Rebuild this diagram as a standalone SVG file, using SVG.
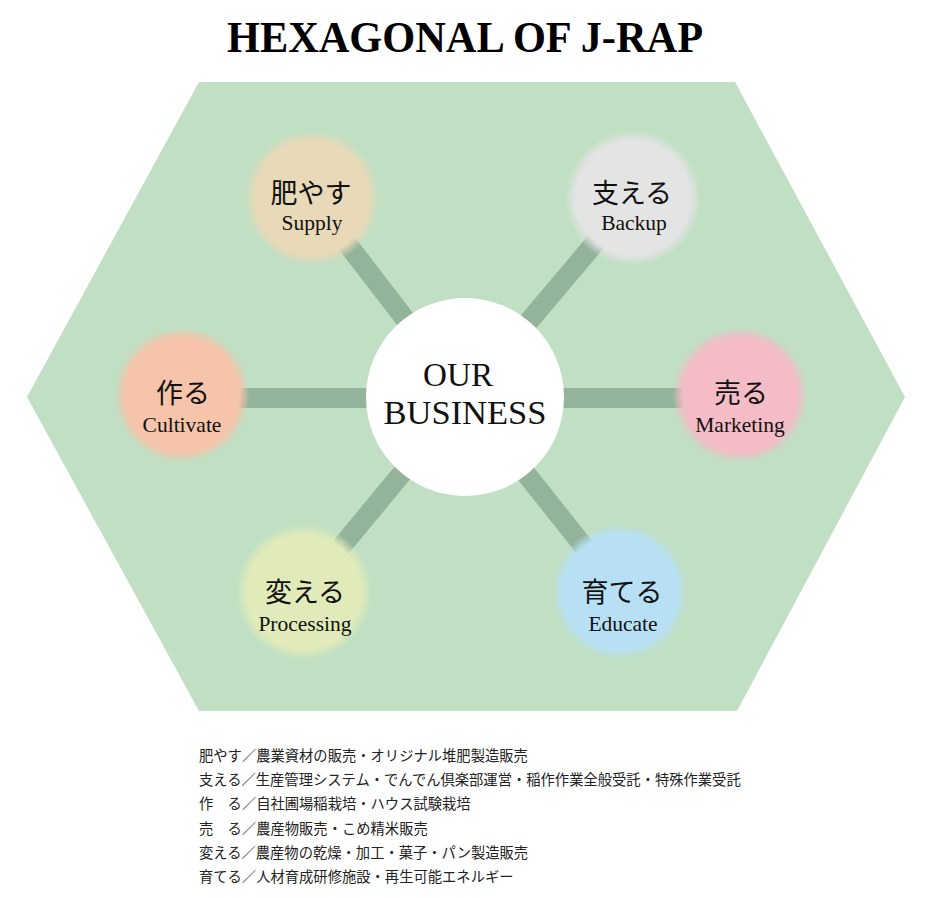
<svg xmlns="http://www.w3.org/2000/svg" width="932" height="898" viewBox="0 0 932 898">
<defs>
<style>
.title{font-family:"Liberation Serif",serif;font-weight:bold;font-size:44px;fill:#000}
.hub{font-family:"Liberation Serif",serif;font-size:34px;fill:#111}
.jp{font-family:"Liberation Serif","Noto Sans CJK JP",serif;font-size:27px;fill:#111;text-anchor:middle}
.en{font-family:"Liberation Serif",serif;font-size:21.5px;fill:#111;text-anchor:middle}
.note{font-family:"Noto Sans CJK JP","Noto Sans",sans-serif;font-size:14.3px;fill:#222}
.bar{stroke:#93b39b;stroke-width:20;fill:none}
</style>
<radialGradient id="gSupply"><stop offset="0" stop-color="#e8d9b8"/><stop offset="0.84" stop-color="#e8d9b8"/><stop offset="1" stop-color="#e8d9b8" stop-opacity="0"/></radialGradient>
<radialGradient id="gBackup"><stop offset="0" stop-color="#e4e4e4"/><stop offset="0.84" stop-color="#e4e4e4"/><stop offset="1" stop-color="#e4e4e4" stop-opacity="0"/></radialGradient>
<radialGradient id="gCult"><stop offset="0" stop-color="#f5c4aa"/><stop offset="0.84" stop-color="#f5c4aa"/><stop offset="1" stop-color="#f5c4aa" stop-opacity="0"/></radialGradient>
<radialGradient id="gMark"><stop offset="0" stop-color="#f3bcc6"/><stop offset="0.84" stop-color="#f3bcc6"/><stop offset="1" stop-color="#f3bcc6" stop-opacity="0"/></radialGradient>
<radialGradient id="gProc"><stop offset="0" stop-color="#e1ebb9"/><stop offset="0.84" stop-color="#e1ebb9"/><stop offset="1" stop-color="#e1ebb9" stop-opacity="0"/></radialGradient>
<radialGradient id="gEdu"><stop offset="0" stop-color="#b7e0f5"/><stop offset="0.84" stop-color="#b7e0f5"/><stop offset="1" stop-color="#b7e0f5" stop-opacity="0"/></radialGradient>
</defs>
<rect width="932" height="898" fill="#ffffff"/>
<text class="title" x="465" y="52" text-anchor="middle" textLength="476" lengthAdjust="spacingAndGlyphs">HEXAGONAL OF J-RAP</text>
<polygon id="hexagon" points="199,82 735,82 905,397 737,711 199,711 27,397" fill="#c0dfc3"/>
<g id="connectors">
<line class="bar" x1="465" y1="397" x2="312" y2="198"/>
<line class="bar" x1="465" y1="397" x2="633" y2="198"/>
<line class="bar" x1="465" y1="398" x2="182" y2="398"/>
<line class="bar" x1="465" y1="398" x2="740" y2="398"/>
<line class="bar" x1="465" y1="397" x2="304" y2="592"/>
<line class="bar" x1="465" y1="397" x2="620" y2="592"/>
</g>
<g id="hub">
<circle cx="465" cy="397" r="99" fill="#ffffff"/>
<text class="hub" x="458" y="386" text-anchor="middle" textLength="70" lengthAdjust="spacingAndGlyphs">OUR</text>
<text class="hub" x="465" y="424" text-anchor="middle" textLength="163" lengthAdjust="spacingAndGlyphs">BUSINESS</text>
</g>
<g id="supply">
<circle cx="312" cy="198" r="68" fill="url(#gSupply)"/>
<text class="jp" x="311" y="203">肥やす</text>
<text class="en" x="312" y="230">Supply</text>
</g>
<g id="backup">
<circle cx="633" cy="198" r="68" fill="url(#gBackup)"/>
<text class="jp" x="632" y="203">支える</text>
<text class="en" x="634" y="230">Backup</text>
</g>
<g id="cultivate">
<circle cx="182" cy="395" r="68" fill="url(#gCult)"/>
<text class="jp" x="183" y="403">作る</text>
<text class="en" x="182" y="432">Cultivate</text>
</g>
<g id="marketing">
<circle cx="740" cy="395" r="68" fill="url(#gMark)"/>
<text class="jp" x="741" y="403">売る</text>
<text class="en" x="740" y="432">Marketing</text>
</g>
<g id="processing">
<circle cx="304" cy="592" r="68" fill="url(#gProc)"/>
<text class="jp" x="305" y="602">変える</text>
<text class="en" x="305" y="631">Processing</text>
</g>
<g id="educate">
<circle cx="620" cy="592" r="68" fill="url(#gEdu)"/>
<text class="jp" x="622" y="602">育てる</text>
<text class="en" x="623" y="631">Educate</text>
</g>
<g id="notes">
<text class="note" x="199" y="761">肥やす／農業資材の販売・オリジナル堆肥製造販売</text>
<text class="note" x="199" y="785">支える／生産管理システム・でんでん倶楽部運営・稲作作業全般受託・特殊作業受託</text>
<text class="note" x="199" y="809">作　る／自社圃場稲栽培・ハウス試験栽培</text>
<text class="note" x="199" y="834">売　る／農産物販売・こめ精米販売</text>
<text class="note" x="199" y="858">変える／農産物の乾燥・加工・菓子・パン製造販売</text>
<text class="note" x="199" y="882">育てる／人材育成研修施設・再生可能エネルギー</text>
</g>
</svg>
